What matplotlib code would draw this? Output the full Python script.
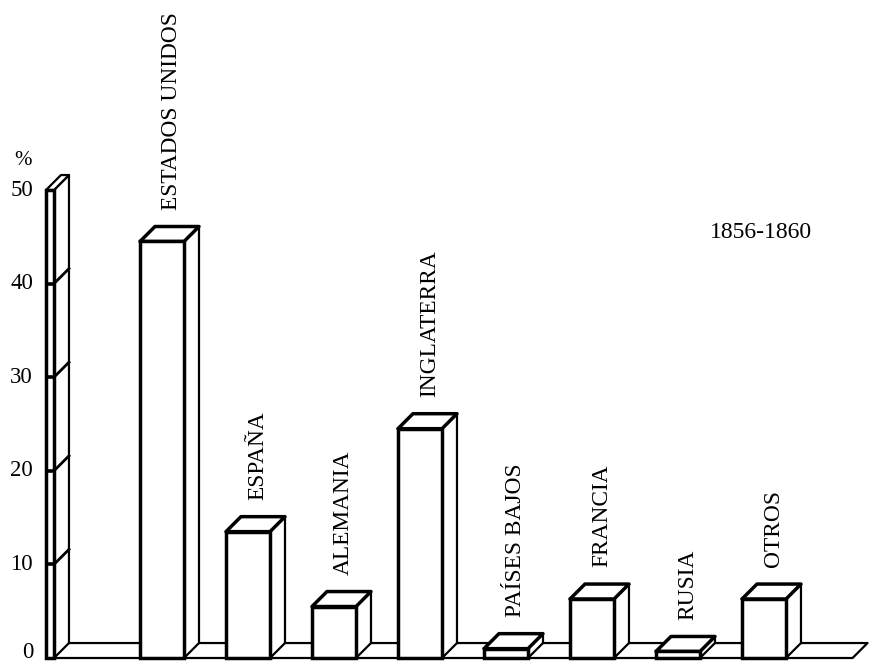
import matplotlib
matplotlib.use("Agg")
import matplotlib.pyplot as plt
from matplotlib.patches import Polygon

countries = ["ESTADOS UNIDOS", "ESPAÑA", "ALEMANIA", "INGLATERRA",
             "PAÍSES BAJOS", "FRANCIA", "RUSIA", "OTROS"]
shares = [44.5, 13.5, 5.5, 24.5, 1.0, 6.3, 0.7, 6.3]
yticks = [0, 10, 20, 30, 40, 50]
period = "1856-1860"

plt.rcParams["font.family"] = ["Liberation Serif", "DejaVu Serif"]

fig = plt.figure(figsize=(8.69, 6.63), dpi=100)
ax = fig.add_axes([0, 0, 1, 1])
ax.set_xlim(-1.884, 8.221)
ax.set_ylim(-0.534, 70.3)
ax.axis("off")

# depth of the fake 3d effect (data units)
dx, dy = 0.174, 1.6
w = 0.512
lw_front, lw_back = 2.5, 1.6

def poly(pts, lw, z):
    ax.add_patch(Polygon(pts, closed=True, facecolor="white",
                         edgecolor="black", linewidth=lw, zorder=z,
                         joinstyle="round"))

# floor
fx0, fx1 = -1.35, 8.03
poly([(fx0, 0), (fx1, 0), (fx1 + dx, dy), (fx0 + dx, dy)], lw_back, 1)

# axis wall
ax0, aw = -1.349, 0.093
top = yticks[-1]
poly([(ax0 + aw, 0), (ax0 + aw + dx, dy), (ax0 + aw + dx, top + dy),
      (ax0 + aw, top)], lw_back, 2)
poly([(ax0, top), (ax0 + aw, top), (ax0 + aw + dx, top + dy),
      (ax0 + dx, top + dy)], lw_back, 2)
ax.add_patch(Polygon([(ax0, 0), (ax0 + aw, 0), (ax0 + aw, top), (ax0, top)],
                     closed=True, facecolor="white", edgecolor="black",
                     linewidth=lw_front, zorder=3))
for t in yticks[1:-1]:
    ax.plot([ax0, ax0 + aw], [t, t], color="black", lw=2.6, zorder=4,
            solid_capstyle="butt")
    ax.plot([ax0 + aw, ax0 + aw + dx], [t, t + dy], color="black", lw=2.0,
            zorder=4)
for t in yticks:
    ax.text(ax0 - 0.15, t + (0.6 if t == 0 else 0), str(t), ha="right",
            va="center", fontsize=16.5)
ax.text(-1.616, 53.1, "%", ha="center", va="center", fontsize=15)

# bars
for i, v in enumerate(shares):
    l, r = i - w / 2, i + w / 2
    poly([(r, 0), (r + dx, dy), (r + dx, v + dy), (r, v)], lw_back, 5)
    poly([(l, v), (r, v), (r + dx, v + dy), (l + dx, v + dy)], lw_front, 5)
ax.bar(range(len(shares)), shares, width=w, facecolor="white",
       edgecolor="black", linewidth=lw_front, zorder=6)

for i, (name, v) in enumerate(zip(countries, shares)):
    ax.text(i + 0.11, v + dy + 1.8, name, rotation=90, ha="center",
            va="bottom", fontsize=16.8)

ax.text(6.965, 45.5, period, ha="center", va="center", fontsize=17)

fig.savefig("out.png", dpi=100)
